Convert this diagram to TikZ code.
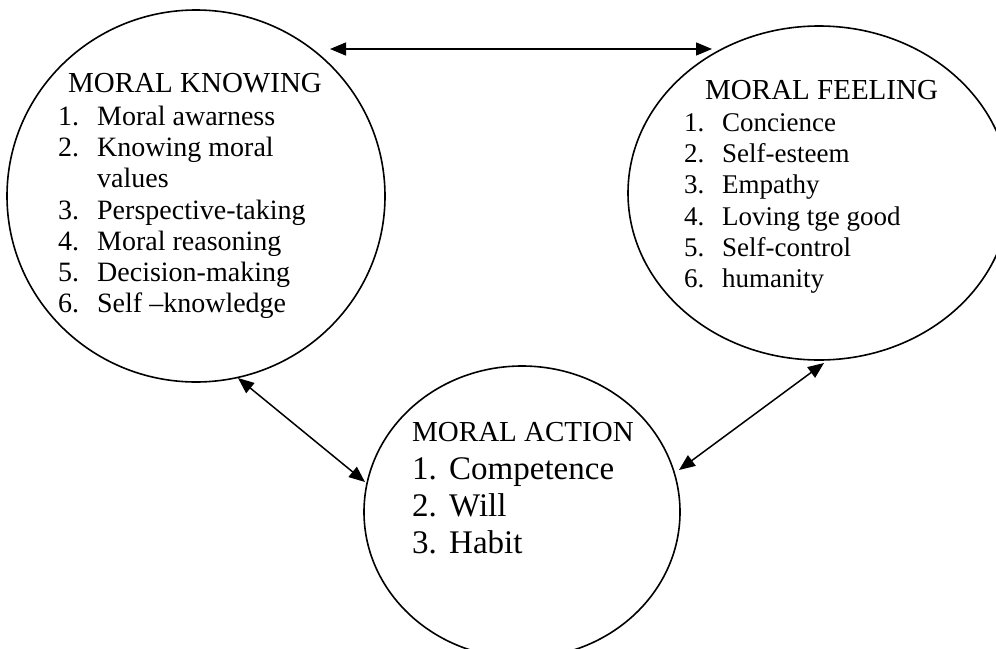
\documentclass[tikz,border=0pt]{standalone}
\usepackage{fontspec}
\setmainfont{Liberation Serif}
\usetikzlibrary{shapes.geometric,arrows.meta}
\begin{document}
\begin{tikzpicture}[x=1pt,y=-1pt,
  ring/.style={draw,ellipse,inner sep=0pt,outer sep=0pt,line width=1.6pt},
  heading/.style={anchor=base west,inner sep=0pt,font=\fontsize{29}{31}\selectfont},
  itemK/.style={anchor=base west,inner sep=0pt,font=\fontsize{28}{31}\selectfont},
  itemF/.style={anchor=base west,inner sep=0pt,font=\fontsize{27}{31}\selectfont},
  itemA/.style={anchor=base west,inner sep=0pt,font=\fontsize{33}{37}\selectfont},
  link/.style={{Triangle[length=16pt,width=13pt]}-{Triangle[length=16pt,width=13pt]},line width=1.5pt}]
\useasboundingbox (0,0) rectangle (996,648);
\clip (0,0) rectangle (996,648);
\fill[white] (0,0) rectangle (996,648);
% circles
\node[ring,minimum width=378pt,minimum height=372pt] (K) at (196,196) {};
\node[ring,minimum width=382pt,minimum height=334pt] (F) at (819,193) {};
\node[ring,minimum width=316pt,minimum height=292pt] (A) at (522,512) {};
% arrow end points
\coordinate (kt) at (330,49);
\coordinate (ft) at (712,49);
\coordinate (kb) at (238,378);
\coordinate (al) at (365,482);
\coordinate (fb) at (824,363);
\coordinate (ar) at (679,470);
\draw[link] (kt) -- (ft);
\draw[link] (kb) -- (al);
\draw[link] (fb) -- (ar);
% moral knowing
\node[heading] (kh) at (68,92) {MORAL KNOWING};
\node[itemK] (k1) at (58,125) {\makebox[39pt][l]{1.}Moral awarness};
\node[itemK] (k2) at (58,156) {\makebox[39pt][l]{2.}Knowing moral};
\node[itemK] (k2b) at (97,187) {values};
\node[itemK] (k3) at (58,219) {\makebox[39pt][l]{3.}Perspective-taking};
\node[itemK] (k4) at (58,250) {\makebox[39pt][l]{4.}Moral reasoning};
\node[itemK] (k5) at (58,281) {\makebox[39pt][l]{5.}Decision-making};
\node[itemK] (k6) at (58,312) {\makebox[39pt][l]{6.}Self –knowledge};
% moral feeling
\node[heading] (fh) at (705,99) {MORAL FEELING};
\node[itemF] (f1) at (684,131) {\makebox[38pt][l]{1.}Concience};
\node[itemF] (f2) at (684,162) {\makebox[38pt][l]{2.}Self-esteem};
\node[itemF] (f3) at (684,193) {\makebox[38pt][l]{3.}Empathy};
\node[itemF] (f4) at (684,225) {\makebox[38pt][l]{4.}Loving tge good};
\node[itemF] (f5) at (684,256) {\makebox[38pt][l]{5.}Self-control};
\node[itemF] (f6) at (684,287) {\makebox[38pt][l]{6.}humanity};
% moral action
\node[heading] (ah) at (412,441) {MORAL ACTION};
\node[itemA] (a1) at (412,479) {\makebox[37pt][l]{1.}Competence};
\node[itemA] (a2) at (412,516) {\makebox[37pt][l]{2.}Will};
\node[itemA] (a3) at (412,553) {\makebox[37pt][l]{3.}Habit};
\end{tikzpicture}
\end{document}
